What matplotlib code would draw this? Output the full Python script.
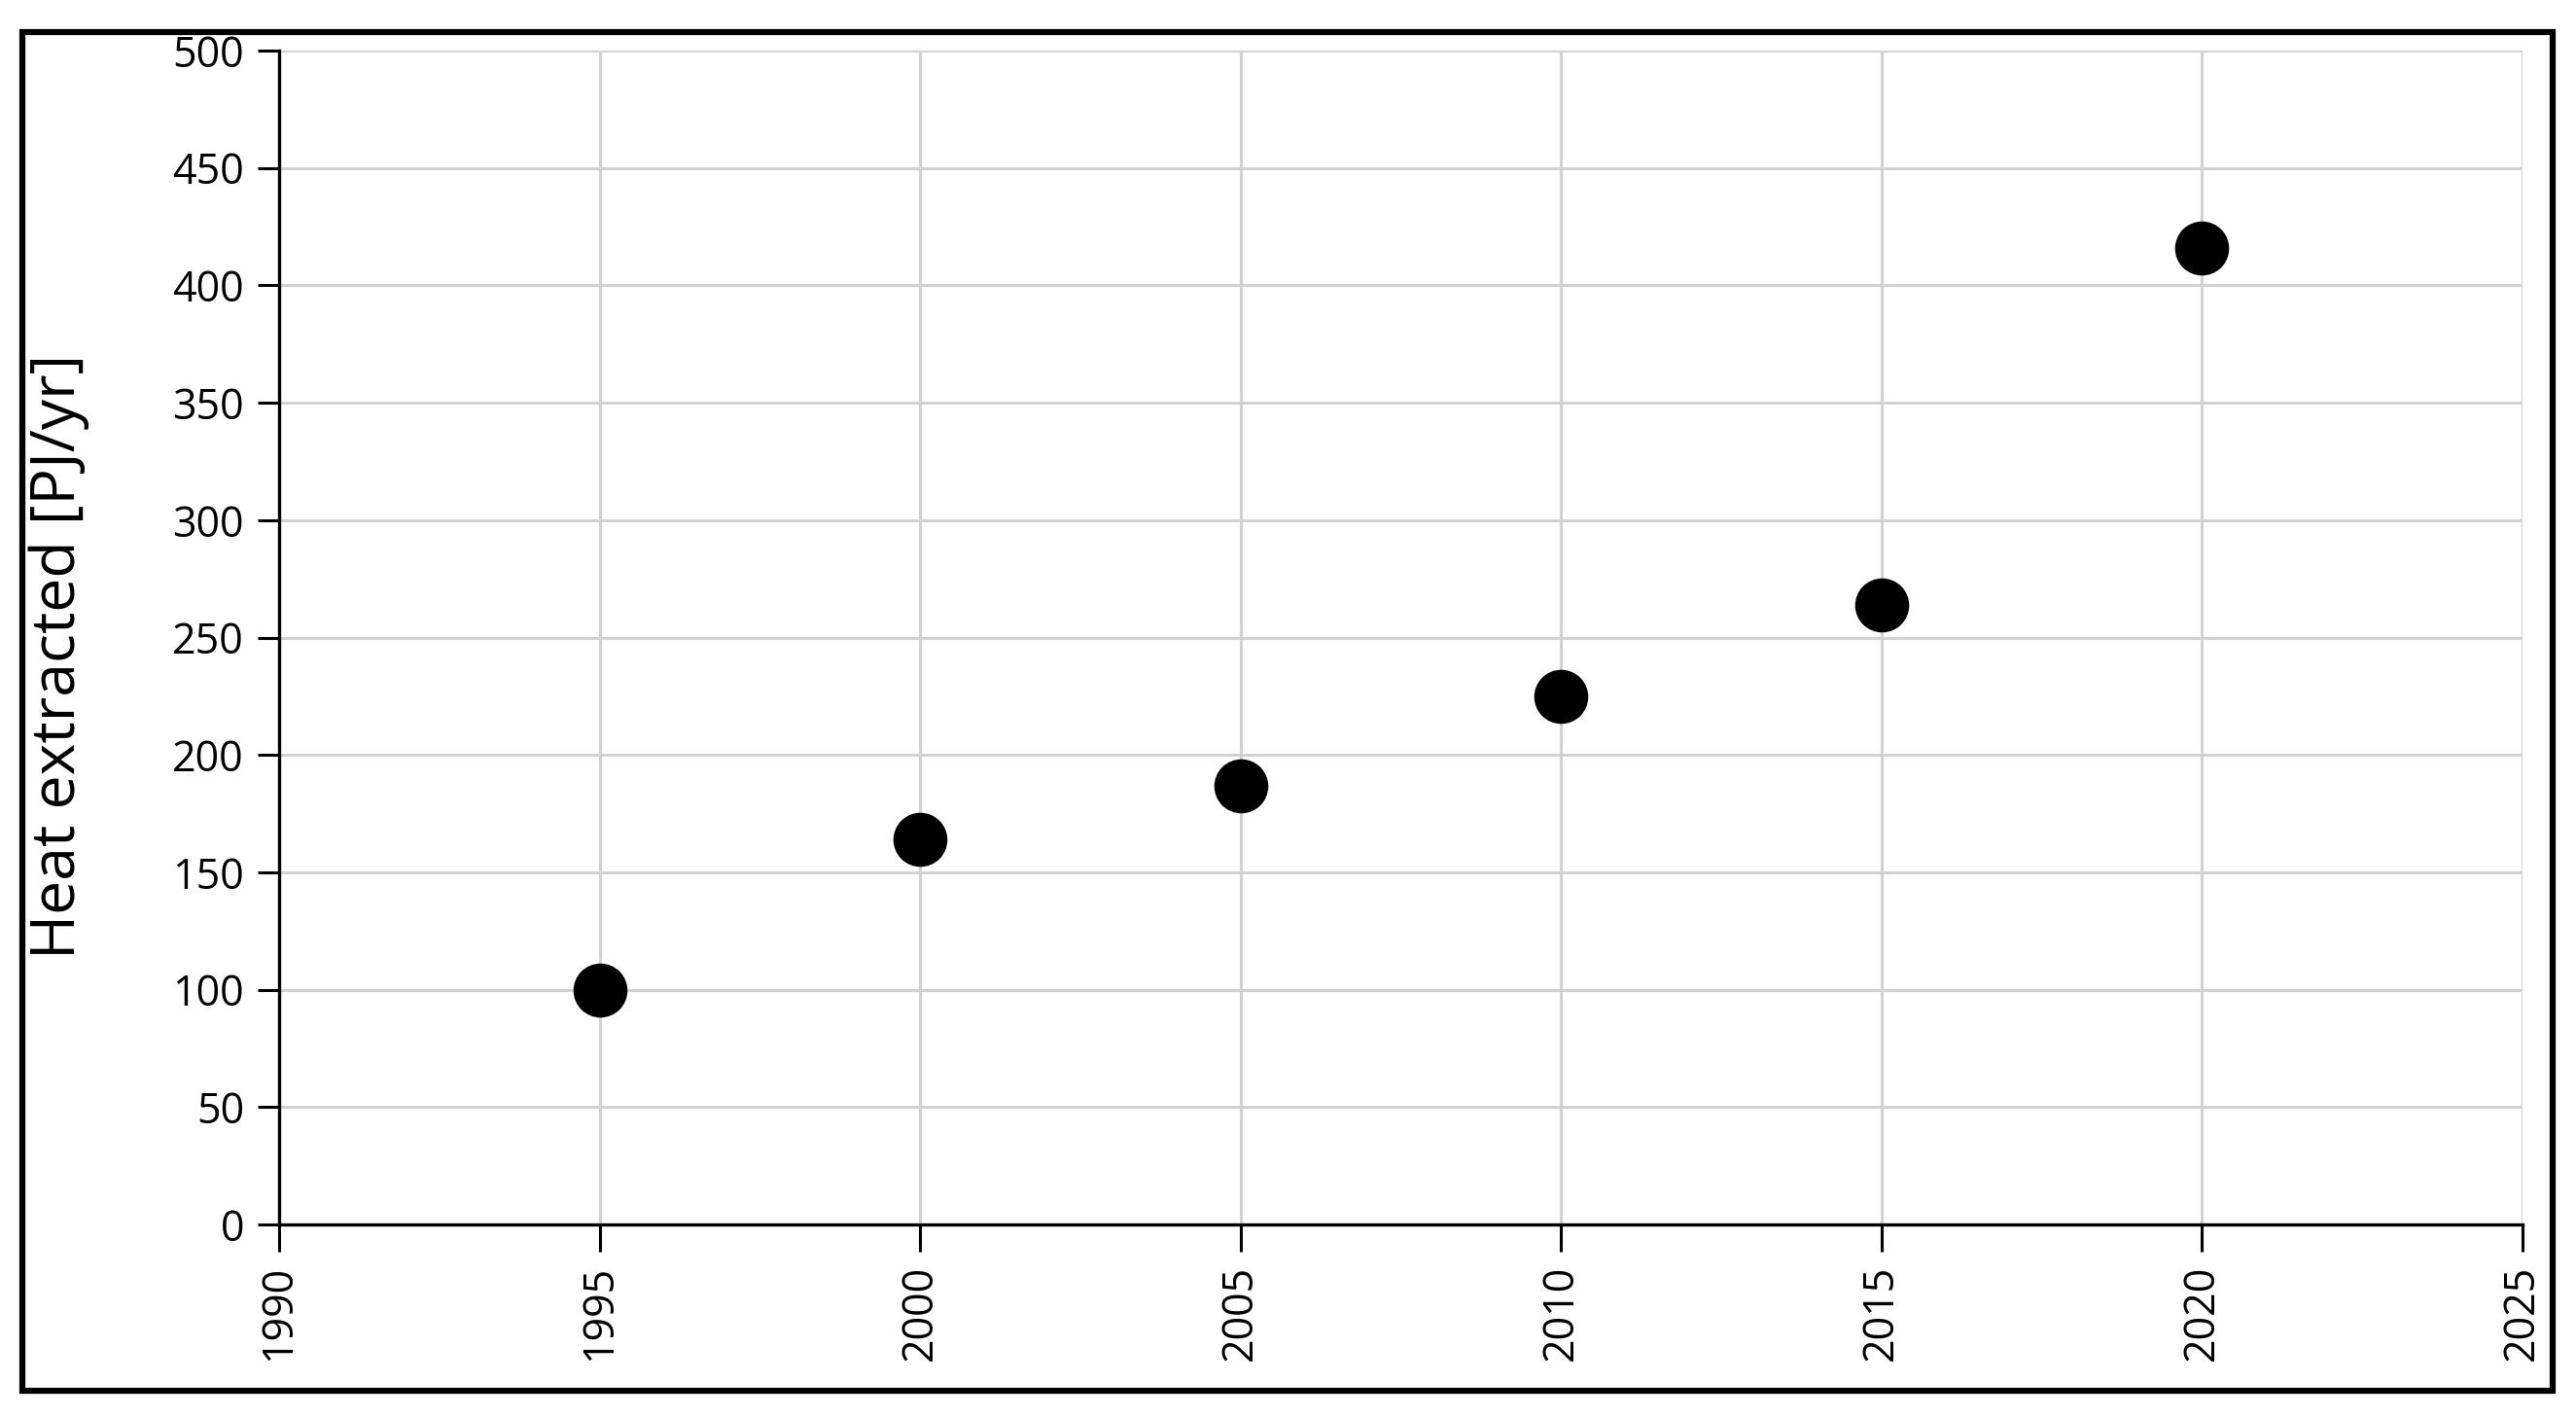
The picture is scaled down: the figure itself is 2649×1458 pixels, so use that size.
import matplotlib
matplotlib.use("Agg")
import matplotlib.pyplot as plt
from matplotlib.patches import Rectangle

years = [1995, 2000, 2005, 2010, 2015, 2020]
heat = [100, 164, 187, 225, 264, 416]
x_ticks = [1990, 1995, 2000, 2005, 2010, 2015, 2020, 2025]
y_ticks = [0, 50, 100, 150, 200, 250, 300, 350, 400, 450, 500]

plt.rcParams['font.family'] = ['Open Sans', 'DejaVu Sans']

W, H = 2649, 1458
fig = plt.figure(figsize=(W / 100, H / 100), dpi=100)
ax = fig.add_axes([287 / W, 1 - 1259 / H, (2594 - 287) / W, (1259 - 52) / H])

ax.scatter(years, heat, s=39 ** 2, color='black', zorder=3, clip_on=False)

ax.set_xlim(1990, 2025)
ax.set_ylim(0, 500)
ax.set_xticks(x_ticks)
ax.set_yticks(y_ticks)
ax.set_xticklabels([str(t) for t in x_ticks], rotation=90)
ax.tick_params(axis='both', labelsize=31, direction='out', length=20, width=2.2,
               colors='black', pad=10)
ax.tick_params(axis='y', length=16)
ax.grid(True, color='#d2d2d2', linewidth=2.2, zorder=0)
ax.set_axisbelow(True)
for s in ['top', 'right']:
    ax.spines[s].set_visible(False)
for s in ['left', 'bottom']:
    ax.spines[s].set_linewidth(2.4)
    ax.spines[s].set_zorder(2)

ax.set_ylabel('Heat extracted [PJ/yr]', fontsize=45)
ax.yaxis.set_label_coords(-(287 - 92) / (2594 - 287), 0.484)

border = Rectangle((23 / W, 1 - 1430 / H), (2625 - 23) / W, (1430 - 33) / H,
                   transform=fig.transFigure, fill=False, edgecolor='black',
                   linewidth=4.5, zorder=10)
fig.patches.append(border)

fig.savefig('out.png', dpi=100)
